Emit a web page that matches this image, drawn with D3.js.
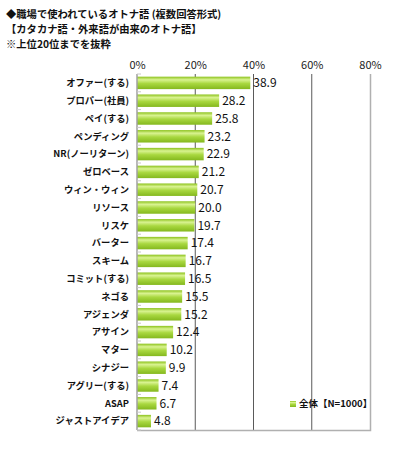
<!DOCTYPE html>
<html>
<head>
<meta charset="utf-8">
<script src="https://cdn.jsdelivr.net/npm/d3@7"></script>
<style>
body { margin: 0; background: #fff; }
svg text { font-family: "Noto Sans CJK JP", "Noto Sans", sans-serif; }
</style>
</head>
<body>
<script>
const titleLines = [
	"◆職場で使われているオトナ語 (複数回答形式)",
	"【カタカナ語・外来語が由来のオトナ語】",
	"※上位20位までを抜粋"
];
const words = ["オファー(する)", "プロパー(社員)", "ペイ(する)", "ペンディング", "NR(ノーリターン)",
	"ゼロベース", "ウィン・ウィン", "リソース", "リスケ", "バーター", "スキーム", "コミット(する)",
	"ネゴる", "アジェンダ", "アサイン", "マター", "シナジー", "アグリー(する)", "ASAP", "ジャストアイデア"];
const percents = [38.9, 28.2, 25.8, 23.2, 22.9, 21.2, 20.7, 20.0, 19.7, 17.4, 16.7, 16.5,
	15.5, 15.2, 12.4, 10.2, 9.9, 7.4, 6.7, 4.8];
const xTicks = [0, 20, 40, 60, 80];
const legendLabel = "全体【N=1000】";

const width = 393;
const height = 450;
const plotLeft = 137, plotRight = 370, plotTop = 74, plotBottom = 430;

let svg = d3.select("body")
	.append("svg")
		.attr("width", width)
		.attr("height", height)

// gradient for bars
let grad = svg.append("defs")
	.append("linearGradient")
		.attr("id", "barGrad")
		.attr("x1", 0).attr("y1", 0).attr("x2", 0).attr("y2", 1)
grad.append("stop").attr("offset", "0%").attr("stop-color", "#8cc21c")
grad.append("stop").attr("offset", "25%").attr("stop-color", "#d9f391")
grad.append("stop").attr("offset", "55%").attr("stop-color", "#a9d840")
grad.append("stop").attr("offset", "100%").attr("stop-color", "#84b81e")

// TITLE
svg.selectAll(".title")
	.data(titleLines)
	.enter()
	.append("text")
		.attr("class", "title")
		.attr("x", 6)
		.attr("y", (d, i) => 18 + i * 15)
		.attr("font-size", "10.3px")
		.attr("font-weight", "bold")
		.attr("fill", "#111")
		.text(d => d)

let x = d3.scaleLinear()
	.domain([0, 80])
	.range([plotLeft, plotRight])

let y = d3.scaleBand()
	.domain(words)
	.range([plotTop, plotBottom])
	.paddingInner(0.3)
	.paddingOuter(0.15)

// gridlines
svg.selectAll(".grid")
	.data(xTicks.slice(1, -1))
	.enter()
	.append("line")
		.attr("x1", d => x(d)).attr("x2", d => x(d))
		.attr("y1", plotTop).attr("y2", plotBottom)
		.attr("stroke", "#5a5a5a")
		.attr("stroke-width", 1)

// plot border (right, bottom)
svg.append("path")
	.attr("d", `M${plotRight + 0.5},${plotTop}V${plotBottom + 0.5}H${plotLeft}`)
	.attr("fill", "none")
	.attr("stroke", "#b0b0b0")
	.attr("stroke-width", 1.5)

// top axis labels
let xAxis = d3.axisTop(x)
	.tickValues(xTicks)
	.tickSize(0)
	.tickPadding(5)
	.tickFormat(d => d + "%")

svg.append("g")
	.attr("transform", `translate(0,${plotTop})`)
	.call(xAxis)
	.call(g => g.select(".domain").remove())
	.call(g => g.selectAll("text")
		.attr("font-size", "11px")
		.attr("fill", "#222")
		.attr("font-family", "Liberation Sans, Arial, sans-serif"))

// bars
svg.selectAll(".bar")
	.data(percents)
	.enter()
	.append("rect")
		.attr("class", "bar")
		.attr("x", x(0))
		.attr("y", (d, i) => y(words[i]))
		.attr("width", d => x(d) - x(0))
		.attr("height", y.bandwidth())
		.attr("fill", "url(#barGrad)")

// left axis with small inward ticks
svg.append("line")
	.attr("x1", plotLeft).attr("x2", plotLeft)
	.attr("y1", plotTop).attr("y2", plotBottom)
	.attr("stroke", "#a0a0a0")
	.attr("stroke-width", 1.5)
svg.selectAll(".ytick")
	.data(d3.range(words.length + 1))
	.enter()
	.append("line")
		.attr("x1", plotLeft).attr("x2", plotLeft + 4)
		.attr("y1", i => plotTop + i * (plotBottom - plotTop) / words.length)
		.attr("y2", i => plotTop + i * (plotBottom - plotTop) / words.length)
		.attr("stroke", "#c8c8c8")

// category labels
svg.selectAll(".cat")
	.data(words)
	.enter()
	.append("text")
		.attr("x", plotLeft - 8)
		.attr("y", d => y(d) + y.bandwidth() / 2)
		.attr("dy", "0.36em")
		.attr("text-anchor", "end")
		.attr("font-size", "9.3px")
		.attr("font-weight", "bold")
		.attr("fill", "#111")
		.text(d => d)

// value labels
svg.selectAll(".val")
	.data(percents)
	.enter()
	.append("text")
		.attr("x", d => x(d) + 3)
		.attr("y", (d, i) => y(words[i]) + y.bandwidth() / 2)
		.attr("dy", "0.36em")
		.attr("font-size", "12px")
		.attr("font-family", "Liberation Sans, Arial, sans-serif")
		.attr("fill", "#111")
		.text(d => d.toFixed(1))

// legend
let legend = svg.append("g")
	.attr("transform", "translate(290,404)")
legend.append("rect")
	.attr("width", 6).attr("height", 6)
	.attr("y", -3)
	.attr("fill", "url(#barGrad)")
legend.append("text")
	.attr("x", 9)
	.attr("dy", "0.36em")
	.attr("font-size", "9.5px")
	.attr("font-weight", "bold")
	.attr("fill", "#111")
	.text(legendLabel)
</script>
</body>
</html>
